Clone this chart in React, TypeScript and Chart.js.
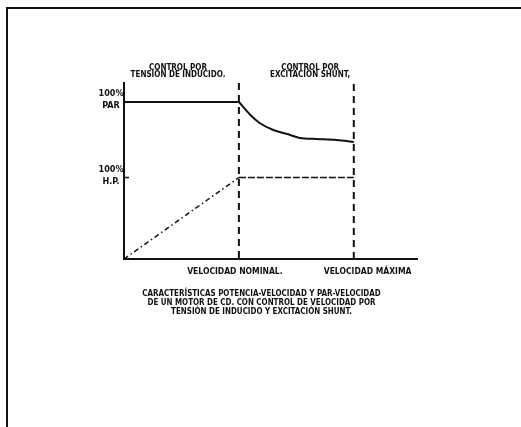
import { useEffect, useRef } from "react";
import { Chart, registerables } from "chart.js";

Chart.register(...registerables);

// speed in units of nominal speed (1 = nominal, 2 = maximum); y in % of plot height
const torqueFlatSpeed = [0, 1];
const torqueFlatValue = [89.2, 89.2];
const torqueCurveSpeed = [1, 1.1, 1.18, 1.3, 1.42, 1.53, 1.68, 1.85, 2];
const torqueCurveValue = [89.2, 81.8, 77.3, 73.3, 71.0, 68.8, 68.2, 67.6, 66.5];
const hpRiseSpeed = [0, 1];
const hpRiseValue = [0, 46.3];
const hpFlatSpeed = [1, 2];
const hpFlatValue = [46.3, 46.3];
const markerSpeeds = [1, 2];
const markerTops = [100, 99.5];
const yTickValues = [89.2, 46.3];
const yTickLabels = [
  ["100%", "PAR"],
  ["100%", "H.P."],
];
const regionCenters = [0.47, 1.62];
const regionLabels = [
  ["CONTROL POR", "TENSIÓN DE INDUCIDO."],
  ["CONTROL POR", "EXCITACIÓN SHUNT,"],
];
const speedLabelAnchors = [0.965, 2.12];
const speedLabels = ["VELOCIDAD NOMINAL.", "VELOCIDAD MÁXIMA"];
const captionLines = [
  "CARACTERÍSTICAS POTENCIA-VELOCIDAD Y PAR-VELOCIDAD",
  "DE UN MOTOR DE CD. CON CONTROL DE VELOCIDAD POR",
  "TENSIÓN DE INDUCIDO Y EXCITACIÓN SHUNT.",
];

const FONT = '"Liberation Sans Narrow", "DejaVu Sans Condensed", "Roboto Condensed", sans-serif';
const INK = "#111111";

const pts = (xs: number[], ys: number[]) => xs.map((x, i) => ({ x, y: ys[i] }));

const decorPlugin = {
  id: "decor",
  afterDraw(chart: any) {
    const ctx = chart.ctx as CanvasRenderingContext2D;
    const xs = chart.scales.x;
    const ys = chart.scales.y;
    const area = chart.chartArea;
    ctx.save();
    // page frame
    ctx.strokeStyle = INK;
    ctx.lineWidth = 2;
    ctx.beginPath();
    ctx.moveTo(6, 8);
    ctx.lineTo(chart.width, 8);
    ctx.moveTo(7, 8);
    ctx.lineTo(7, chart.height);
    ctx.stroke();

    // inward y ticks
    ctx.lineWidth = 1.5;
    yTickValues.forEach((v) => {
      const py = ys.getPixelForValue(v);
      ctx.beginPath();
      ctx.moveTo(area.left, py);
      ctx.lineTo(area.left + 5, py);
      ctx.stroke();
    });

    ctx.fillStyle = INK;
    ctx.textAlign = "center";
    ctx.textBaseline = "middle";

    // y labels
    ctx.font = `bold 9px ${FONT}`;
    yTickValues.forEach((v, i) => {
      const py = ys.getPixelForValue(v);
      const cx = area.left - 13;
      ctx.fillText(yTickLabels[i][0], cx, py - 8);
      ctx.fillText(yTickLabels[i][1], cx, py + 4);
    });

    // region labels
    ctx.font = `bold 8px ${FONT}`;
    regionCenters.forEach((s, i) => {
      const px = xs.getPixelForValue(s);
      ctx.fillText(regionLabels[i][0], px, area.top - 15);
      ctx.fillText(regionLabels[i][1], px, area.top - 8);
    });

    // speed labels
    ctx.font = `bold 8.5px ${FONT}`;
    speedLabelAnchors.forEach((s, i) => {
      const px = xs.getPixelForValue(s);
      ctx.fillText(speedLabels[i], px, area.bottom + 13);
    });

    // caption (slightly condensed lettering)
    ctx.font = `bold 9px ${FONT}`;
    const cx = (area.left + area.right) / 2 - 9;
    const sx = 0.88;
    captionLines.forEach((line, i) => {
      ctx.save();
      ctx.translate(cx, area.bottom + 35 + i * 9);
      ctx.scale(sx, 1);
      ctx.fillText(line, 0, 0);
      ctx.restore();
    });
    ctx.restore();
  },
};

export default function App() {
  const ref = useRef<HTMLCanvasElement | null>(null);
  useEffect(() => {
    if (!ref.current) return;
    const base = {
      borderColor: INK,
      pointRadius: 0,
      fill: false,
      clip: false as any,
    };
    const chart = new Chart(ref.current, {
      type: "line",
      data: {
        datasets: [
          { ...base, data: pts(torqueFlatSpeed, torqueFlatValue), borderWidth: 2 },
          {
            ...base,
            data: pts(torqueCurveSpeed, torqueCurveValue),
            borderWidth: 2,
            cubicInterpolationMode: "monotone",
          },
          { ...base, data: pts(hpRiseSpeed, hpRiseValue), borderWidth: 1.5, borderDash: [5, 3, 1.5, 3] },
          { ...base, data: pts(hpFlatSpeed, hpFlatValue), borderWidth: 1.5, borderDash: [7, 2] },
          ...markerSpeeds.map((s, i) => ({
            ...base,
            data: [
              { x: s, y: markerTops[i] },
              { x: s, y: 0 },
            ],
            borderWidth: 2,
            borderDash: [7, 5],
          })),
        ] as any,
      },
      options: {
        animation: false,
        responsive: false,
        layout: { padding: { left: 116, right: 104, top: 83, bottom: 160 } },
        plugins: { legend: { display: false }, tooltip: { enabled: false } },
        scales: {
          x: {
            type: "linear",
            min: 0,
            max: 2.55,
            grid: { display: false },
            ticks: { display: false },
            border: { display: true, color: INK, width: 2 },
          },
          y: {
            type: "linear",
            min: 0,
            max: 100,
            grid: { display: false },
            ticks: { display: false },
            border: { display: true, color: INK, width: 2 },
          },
        },
      },
      plugins: [decorPlugin],
    });
    return () => chart.destroy();
  }, []);
  return (
    <div style={{ position: "fixed", left: 0, top: 0, width: 521, height: 427, background: "#fff" }}>
      <canvas ref={ref} width={521} height={427} />
    </div>
  );
}
